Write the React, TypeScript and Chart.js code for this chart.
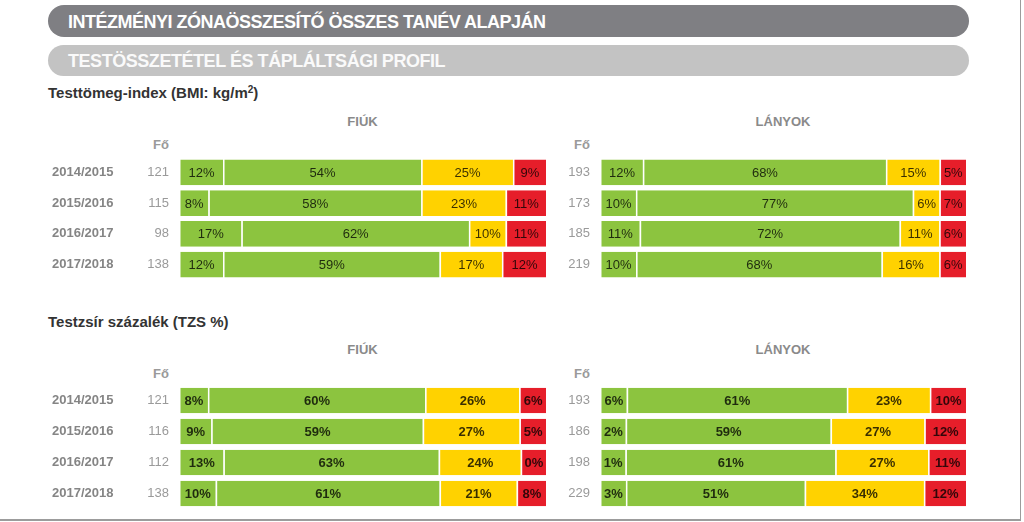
import React, { useEffect, useRef } from "react";
import { Chart, registerables } from "chart.js";

Chart.register(...registerables);

const FONT = '"Liberation Sans", Arial, Helvetica, sans-serif';

const years = ["2014/2015", "2015/2016", "2016/2017", "2017/2018"];
const segmentNames = ["1", "2", "3", "4"];
const segmentColors = ["#8CC43F", "#8CC43F", "#FFD200", "#E61E2A"];

// BMI – Fiúk
const bmiBoysN = [121, 115, 98, 138];
const bmiBoys1 = [12, 8, 17, 12];
const bmiBoys2 = [54, 58, 62, 59];
const bmiBoys3 = [25, 23, 10, 17];
const bmiBoys4 = [9, 11, 11, 12];
// BMI – Lányok
const bmiGirlsN = [193, 173, 185, 219];
const bmiGirls1 = [12, 10, 11, 10];
const bmiGirls2 = [68, 77, 72, 68];
const bmiGirls3 = [15, 6, 11, 16];
const bmiGirls4 = [5, 7, 6, 6];
// TZS – Fiúk
const tzsBoysN = [121, 116, 112, 138];
const tzsBoys1 = [8, 9, 13, 10];
const tzsBoys2 = [60, 59, 63, 61];
const tzsBoys3 = [26, 27, 24, 21];
const tzsBoys4 = [6, 5, 0, 8];
// TZS – Lányok
const tzsGirlsN = [193, 186, 198, 229];
const tzsGirls1 = [6, 2, 1, 3];
const tzsGirls2 = [61, 59, 61, 51];
const tzsGirls3 = [23, 27, 27, 34];
const tzsGirls4 = [10, 12, 11, 12];

// minimum visible segment share (segments are shown at least this wide, then rows are rescaled to 100)
const MIN_SHARE = 7.4;

function displayData(segs: number[][]): number[][] {
  const rows = segs[0].length;
  const out: number[][] = segs.map(() => []);
  for (let r = 0; r < rows; r++) {
    const shown = segs.map((s) => Math.max(s[r], MIN_SHARE));
    const total = shown.reduce((a, b) => a + b, 0);
    shown.forEach((v, i) => out[i].push((v / total) * 100));
  }
  return out;
}

const labelPlugin = {
  id: "segLabels",
  afterDatasetsDraw(chart: any) {
    const o = chart.options.plugins.segLabels;
    const raw: number[][] = o.raw;
    const ctx = chart.ctx;
    ctx.save();
    ctx.font = `${o.weight} 13px ${FONT}`;
    ctx.fillStyle = "rgba(0,0,0,0.78)";
    ctx.textAlign = "center";
    ctx.textBaseline = "middle";
    chart.data.datasets.forEach((_: any, i: number) => {
      const meta = chart.getDatasetMeta(i);
      meta.data.forEach((el: any, j: number) => {
        const p = el.getProps(["x", "base", "y"], true);
        ctx.fillText(raw[i][j] + "%", (p.x + p.base) / 2 + 0.5, p.y + 1);
      });
    });
    ctx.restore();
  },
};

function Panel(props: {
  segs: number[][];
  counts: number[];
  withYears: boolean;
  bold: boolean;
  left: number;
  top: number;
  width: number;
  height: number;
}) {
  const ref = useRef<HTMLCanvasElement>(null);
  useEffect(() => {
    const shown = displayData(props.segs);
    const scales: any = {
      x: { stacked: true, min: 0, max: 100, display: false },
      y: {
        type: "category",
        position: "left",
        stacked: true,
        offset: true,
        labels: props.counts.map(String),
        grid: { display: false, drawTicks: false },
        border: { display: false },
        ticks: {
          color: "#9a9a9a",
          padding: 10,
          crossAlign: "near",
          font: { family: FONT, size: 13 },
        },
        afterFit: (s: any) => {
          s.width = 50;
          s.paddingTop = 0;
          s.paddingBottom = 0;
        },
      },
    };
    if (props.withYears) {
      scales.y2 = {
        type: "category",
        position: "left",
        weight: 1,
        offset: true,
        labels: years,
        grid: { display: false, drawTicks: false },
        border: { display: false },
        ticks: {
          color: "#858585",
          padding: 0,
          crossAlign: "far",
          font: { family: FONT, size: 13, weight: "bold" },
        },
        afterFit: (s: any) => {
          s.width = 77;
          s.paddingTop = 0;
          s.paddingBottom = 0;
        },
      };
    }
    const chart = new Chart(ref.current as HTMLCanvasElement, {
      type: "bar",
      data: {
        labels: years,
        datasets: shown.map((d, i) => ({
          label: segmentNames[i],
          data: d,
          backgroundColor: segmentColors[i],
          borderColor: "#ffffff",
          borderWidth: { left: 1.5, top: 0, right: 0, bottom: 0 },
          borderSkipped: false,
          barPercentage: 0.83,
          categoryPercentage: 1,
        })),
      },
      options: {
        indexAxis: "y",
        responsive: false,
        animation: false,
        layout: { padding: 0 },
        scales,
        plugins: {
          legend: { display: false },
          tooltip: { enabled: false },
          segLabels: { raw: props.segs, weight: props.bold ? "bold" : "normal" },
        } as any,
      },
      plugins: [labelPlugin],
    } as any);
    return () => chart.destroy();
  }, []);
  return (
    <canvas
      ref={ref}
      width={props.width}
      height={props.height}
      style={{
        position: "absolute",
        left: props.left,
        top: props.top,
        width: props.width,
        height: props.height,
      }}
    />
  );
}

const txt = (s: React.CSSProperties): React.CSSProperties => ({
  position: "absolute",
  fontFamily: FONT,
  whiteSpace: "nowrap",
  lineHeight: "1",
  ...s,
});

export default function App() {
  return (
    <div
      style={{
        position: "absolute",
        left: 0,
        top: 0,
        width: 1024,
        height: 522,
        background: "#fff",
        overflow: "hidden",
      }}
    >
      <div
        style={{
          position: "absolute",
          left: 0,
          top: 0,
          width: 1020,
          height: 519,
          borderRight: "1px solid #9c9c9c",
          borderBottom: "2px solid #9c9c9c",
        }}
      />
      <div
        style={{
          position: "absolute",
          left: 48,
          top: 5,
          width: 921,
          height: 32,
          borderRadius: 16,
          background: "#7f7f83",
        }}
      />
      <div style={txt({ left: 68, top: 13, fontSize: 18, letterSpacing: -0.5, fontWeight: "bold", color: "#fff" })}>
        INTÉZMÉNYI ZÓNAÖSSZESÍTŐ ÖSSZES TANÉV ALAPJÁN
      </div>
      <div
        style={{
          position: "absolute",
          left: 48,
          top: 45,
          width: 921,
          height: 31,
          borderRadius: 16,
          background: "#c3c3c3",
        }}
      />
      <div style={txt({ left: 68, top: 52, fontSize: 18, letterSpacing: -0.45, fontWeight: "bold", color: "#fafafa" })}>
        TESTÖSSZETÉTEL ÉS TÁPLÁLTSÁGI PROFIL
      </div>

      <div style={txt({ left: 48, top: 85, fontSize: 15, fontWeight: "bold", color: "#333" })}>
        Testtömeg-index (BMI: kg/m<sup style={{ fontSize: 10, verticalAlign: "5px", lineHeight: 0 }}>2</sup>)
      </div>
      <div style={txt({ left: 179, width: 367, textAlign: "center", top: 115, fontSize: 13, fontWeight: "bold", color: "#8a8a8a" })}>FIÚK</div>
      <div style={txt({ left: 600, width: 366, textAlign: "center", top: 115, fontSize: 13, fontWeight: "bold", color: "#8a8a8a" })}>LÁNYOK</div>
      <div style={txt({ left: 129, width: 40, textAlign: "right", top: 138, fontSize: 13, fontWeight: "bold", color: "#9a9a9a" })}>Fő</div>
      <div style={txt({ left: 550, width: 40, textAlign: "right", top: 138, fontSize: 13, fontWeight: "bold", color: "#9a9a9a" })}>Fő</div>

      <Panel segs={[bmiBoys1, bmiBoys2, bmiBoys3, bmiBoys4]} counts={bmiBoysN} withYears={true} bold={false} left={52} top={157} width={494} height={123} />
      <Panel segs={[bmiGirls1, bmiGirls2, bmiGirls3, bmiGirls4]} counts={bmiGirlsN} withYears={false} bold={false} left={550} top={157} width={416} height={123} />

      <div style={txt({ left: 48, top: 314, fontSize: 15, fontWeight: "bold", color: "#333" })}>
        Testzsír százalék (TZS %)
      </div>
      <div style={txt({ left: 179, width: 367, textAlign: "center", top: 343, fontSize: 13, fontWeight: "bold", color: "#8a8a8a" })}>FIÚK</div>
      <div style={txt({ left: 600, width: 366, textAlign: "center", top: 343, fontSize: 13, fontWeight: "bold", color: "#8a8a8a" })}>LÁNYOK</div>
      <div style={txt({ left: 129, width: 40, textAlign: "right", top: 367, fontSize: 13, fontWeight: "bold", color: "#9a9a9a" })}>Fő</div>
      <div style={txt({ left: 550, width: 40, textAlign: "right", top: 367, fontSize: 13, fontWeight: "bold", color: "#9a9a9a" })}>Fő</div>

      <Panel segs={[tzsBoys1, tzsBoys2, tzsBoys3, tzsBoys4]} counts={tzsBoysN} withYears={true} bold={true} left={52} top={385} width={494} height={124} />
      <Panel segs={[tzsGirls1, tzsGirls2, tzsGirls3, tzsGirls4]} counts={tzsGirlsN} withYears={false} bold={true} left={550} top={385} width={416} height={124} />
    </div>
  );
}
